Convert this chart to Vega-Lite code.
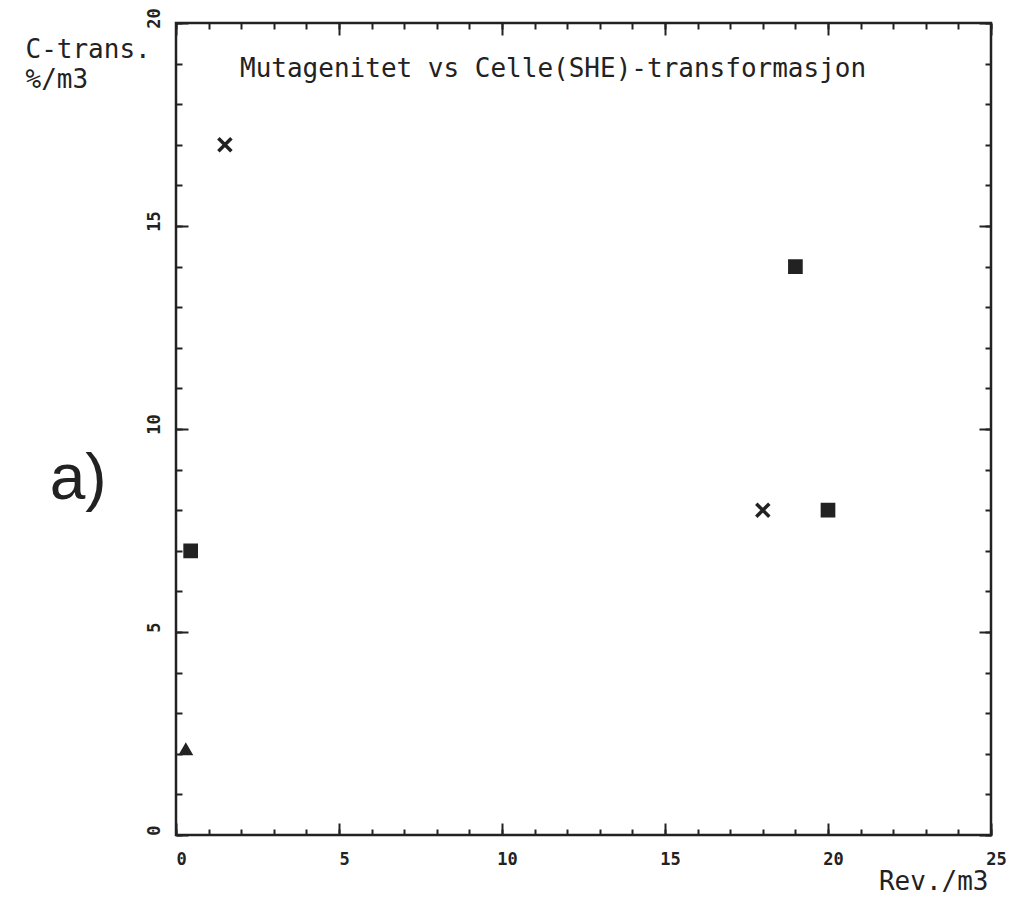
{
  "$schema": "https://vega.github.io/schema/vega-lite/v6.json",
  "width": 815,
  "height": 812,
  "autosize": {"type": "none"},
  "padding": {"left": 176, "top": 23, "right": 22, "bottom": 65},
  "background": "white",
  "title": {
    "text": "Mutagenitet vs Celle(SHE)-transformasjon",
    "anchor": "start",
    "frame": "group",
    "dx": 64,
    "offset": -95,
    "baseline": "alphabetic",
    "font": "DejaVu Sans Mono",
    "fontSize": 26,
    "fontWeight": "normal",
    "color": "#222222"
  },
  "config": {
    "view": {"stroke": "#222222", "strokeWidth": 2.5},
    "axis": {
      "domain": false,
      "grid": false,
      "tickColor": "#222222",
      "tickWidth": 2,
      "labelColor": "#222222",
      "titleColor": "#222222",
      "labelFont": "DejaVu Sans Mono",
      "labelFontWeight": "bold",
      "labelFontSize": 17,
      "labelFlush": false,
      "titleFont": "DejaVu Sans Mono",
      "titleFontSize": 26,
      "titleFontWeight": "normal"
    }
  },
  "datasets": {
    "punkter": [
      {"rev": 1.5, "ctrans": 17, "gruppe": "A"},
      {"rev": 18, "ctrans": 8, "gruppe": "A"},
      {"rev": 19, "ctrans": 14, "gruppe": "B"},
      {"rev": 20, "ctrans": 8, "gruppe": "B"},
      {"rev": 0.45, "ctrans": 7, "gruppe": "B"},
      {"rev": 0.3, "ctrans": 2.1, "gruppe": "C"}
    ],
    "merke": [
      {"rev": -3.0, "ctrans": 8.75, "tekst": "a)"}
    ]
  },
  "layer": [
    {
      "data": {"name": "punkter"},
      "mark": {"type": "point", "filled": true, "fill": "#222222", "stroke": "#222222", "strokeWidth": 3.5, "opacity": 1},
      "encoding": {
        "x": {
          "field": "rev", "type": "quantitative",
          "scale": {"domain": [0, 25], "nice": false, "zero": false},
          "axis": {"orient": "bottom", "values": [0,1,2,3,4,5,6,7,8,9,10,11,12,13,14,15,16,17,18,19,20,21,22,23,24,25], "tickSize": -6, "labels": false, "title": null}
        },
        "y": {
          "field": "ctrans", "type": "quantitative",
          "scale": {"domain": [0, 20], "nice": false, "zero": false},
          "axis": {"orient": "left", "values": [0,1,2,3,4,5,6,7,8,9,10,11,12,13,14,15,16,17,18,19,20], "tickSize": -6, "labels": false, "title": null}
        },
        "shape": {
          "field": "gruppe", "type": "nominal",
          "scale": {"domain": ["A", "B", "C"], "range": ["M-1,-1L1,1M-1,1L1,-1", "square", "triangle-up"]},
          "legend": null
        },
        "size": {
          "field": "gruppe", "type": "nominal",
          "scale": {"domain": ["A", "B", "C"], "range": [170, 80, 70]},
          "legend": null
        }
      }
    },
    {
      "data": {"name": "merke"},
      "mark": {"type": "text", "font": "Liberation Sans", "fontSize": 64, "align": "center", "baseline": "middle", "color": "#222222"},
      "encoding": {
        "x": {
          "field": "rev", "type": "quantitative",
          "scale": {"domain": [0, 25], "nice": false, "zero": false},
          "axis": {
            "orient": "bottom", "values": [0, 5, 10, 15, 20, 25], "tickSize": -12,
            "labelPadding": 28, "labelOffset": 5,
            "title": "Rev./m3", "titleX": 812, "titleY": 54, "titleAlign": "right", "titleBaseline": "alphabetic"
          }
        },
        "y": {
          "field": "ctrans", "type": "quantitative",
          "scale": {"domain": [0, 20], "nice": false, "zero": false},
          "axis": {
            "orient": "left", "values": [0, 5, 10, 15, 20], "tickSize": -12,
            "labelAngle": -90, "labelAlign": "center", "labelBaseline": "bottom",
            "labelPadding": 25, "labelOffset": -5,
            "title": ["C-trans.", "%/m3"], "titleAngle": 0, "titleAlign": "left", "titleBaseline": "alphabetic",
            "titleX": -151, "titleY": 34, "titleLineHeight": 30
          }
        },
        "text": {"field": "tekst", "type": "nominal"}
      }
    },
    {
      "data": {"name": "punkter"},
      "mark": {"type": "point", "opacity": 0},
      "encoding": {
        "x": {
          "field": "rev", "type": "quantitative",
          "scale": {"domain": [0, 25], "nice": false, "zero": false},
          "axis": {"orient": "top", "values": [0,1,2,3,4,5,6,7,8,9,10,11,12,13,14,15,16,17,18,19,20,21,22,23,24,25], "tickSize": -6, "labels": false, "title": null}
        },
        "y": {
          "field": "ctrans", "type": "quantitative",
          "scale": {"domain": [0, 20], "nice": false, "zero": false},
          "axis": {"orient": "right", "values": [0,1,2,3,4,5,6,7,8,9,10,11,12,13,14,15,16,17,18,19,20], "tickSize": -6, "labels": false, "title": null}
        }
      }
    },
    {
      "data": {"name": "punkter"},
      "mark": {"type": "point", "opacity": 0},
      "encoding": {
        "x": {
          "field": "rev", "type": "quantitative",
          "scale": {"domain": [0, 25], "nice": false, "zero": false},
          "axis": {"orient": "top", "values": [0, 5, 10, 15, 20, 25], "tickSize": -12, "labels": false, "title": null}
        },
        "y": {
          "field": "ctrans", "type": "quantitative",
          "scale": {"domain": [0, 20], "nice": false, "zero": false},
          "axis": {"orient": "right", "values": [0, 5, 10, 15, 20], "tickSize": -12, "labels": false, "title": null}
        }
      }
    }
  ],
  "resolve": {"axis": {"x": "independent", "y": "independent"}}
}
